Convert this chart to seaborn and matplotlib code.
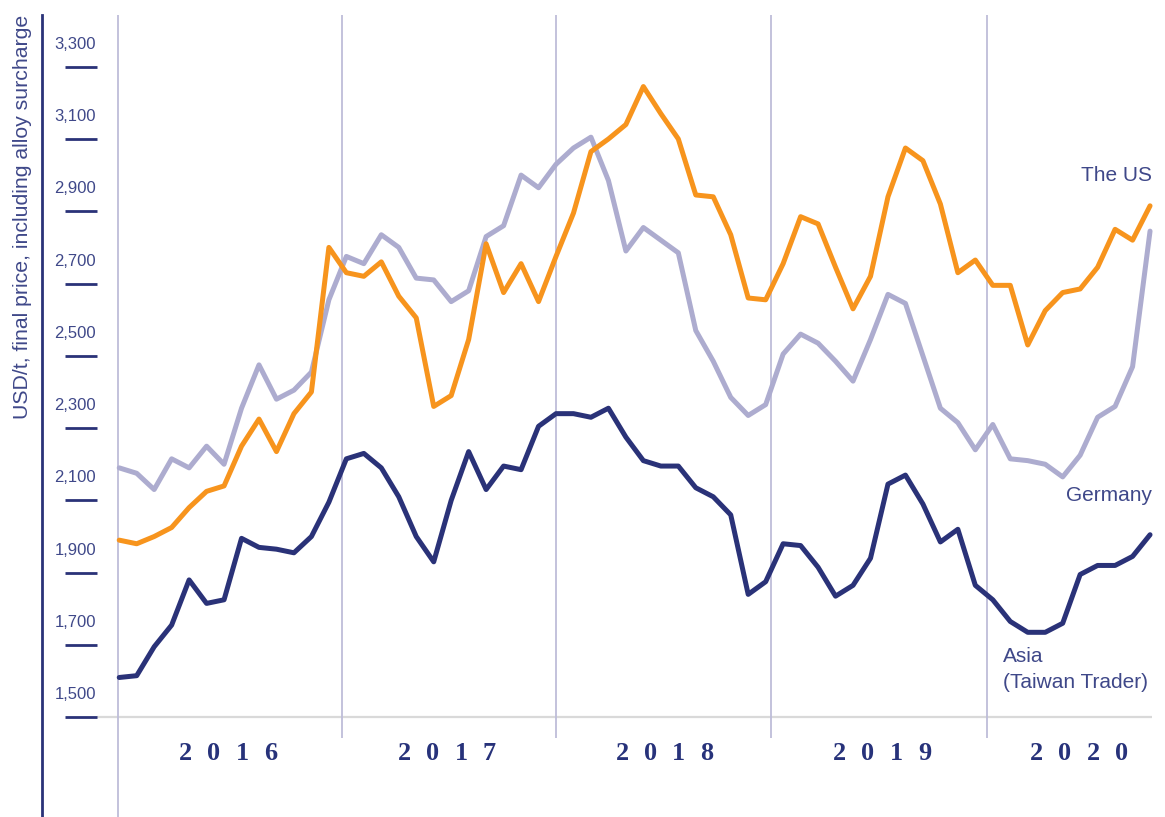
"""Stainless steel final prices by region, monthly 2016-2020."""

import matplotlib.pyplot as plt
import matplotlib.transforms as mtransforms
import numpy as np
import pandas as pd
import seaborn as sns

# ---- data (USD/t, monthly Jan 2016 .. Dec 2020) ----
years = ["2016", "2017", "2018", "2019", "2020"]
month_index = np.arange(60)

us = [1990, 1980, 2000, 2025, 2080, 2125, 2140, 2250, 2325, 2235, 2340, 2400,
      2800, 2730, 2720, 2760, 2665, 2605, 2360, 2390, 2545, 2810, 2675, 2755,
      2650, 2775, 2895, 3065, 3100, 3140, 3245, 3170, 3100, 2945, 2940, 2835,
      2660, 2655, 2755, 2885, 2865, 2745, 2630, 2720, 2940, 3075, 3040, 2920,
      2730, 2765, 2695, 2695, 2530, 2625, 2675, 2685, 2745, 2850, 2820, 2915]

germany = [2190, 2175, 2130, 2215, 2190, 2250, 2200, 2355, 2475, 2380, 2405, 2455,
           2655, 2775, 2755, 2835, 2800, 2715, 2710, 2650, 2680, 2830, 2860, 3000,
           2965, 3030, 3075, 3105, 2985, 2790, 2855, 2820, 2785, 2570, 2485, 2385,
           2335, 2365, 2505, 2560, 2535, 2485, 2430, 2545, 2670, 2645, 2500, 2355,
           2315, 2240, 2310, 2215, 2210, 2200, 2165, 2225, 2330, 2360, 2470, 2845]

asia = [1610, 1615, 1695, 1755, 1880, 1815, 1825, 1995, 1970, 1965, 1955, 2000,
        2095, 2215, 2230, 2190, 2110, 2000, 1930, 2100, 2235, 2130, 2195, 2185,
        2305, 2340, 2340, 2330, 2355, 2275, 2210, 2195, 2195, 2135, 2110, 2060,
        1840, 1875, 1980, 1975, 1915, 1835, 1865, 1940, 2145, 2170, 2090, 1985,
        2020, 1865, 1825, 1765, 1735, 1735, 1760, 1895, 1920, 1920, 1945, 2005]

ytick_values = [1500, 1700, 1900, 2100, 2300, 2500, 2700, 2900, 3100, 3300]
ytick_labels = [f"{v:,}" for v in ytick_values]

# ---- styling ----
ORANGE = "#f7941d"
LAVENDER = "#adaccf"
NAVY = "#2a3278"
TEXT = "#3f4889"
DIVIDER = "#bebdd9"

sns.set_style("white")
plt.rcParams["font.family"] = ["Liberation Sans", "DejaVu Sans"]

df = pd.concat([
    pd.DataFrame({"month": month_index, "price": germany, "region": "Germany"}),
    pd.DataFrame({"month": month_index, "price": asia, "region": "Asia"}),
    pd.DataFrame({"month": month_index, "price": us, "region": "The US"}),
])

fig = plt.figure(figsize=(11.65, 8.17), dpi=100)
ax = fig.add_axes([42 / 1165, 0.0, 1118 / 1165, 802 / 817])

ax.set_xlim(-4.42, 59.57)
ax.set_ylim(1224, 3443)

# frame: left spine only
for side in ["top", "right", "bottom"]:
    ax.spines[side].set_visible(False)
ax.spines["left"].set_color(NAVY)
ax.spines["left"].set_linewidth(2.0)
ax.set_xticks([])
ax.set_yticks([])

# baseline and year dividers
ax.hlines(1500, 0.0492, 0.9928, transform=ax.get_yaxis_transform(),
          color="#d9d9d9", linewidth=1.6, zorder=1)
ax.axvline(-0.07, color=DIVIDER, linewidth=1.3, zorder=1)
ax.vlines([12.75, 25.0, 37.3, 49.67], 1442, 3443, color=DIVIDER,
          linewidth=1.3, zorder=1)

# y ticks drawn as detached dashes, labels sitting above them
ax.hlines(ytick_values, 0.0206, 0.0492, transform=ax.get_yaxis_transform(),
          color=NAVY, linewidth=2.0, zorder=2)
lift = mtransforms.ScaledTranslation(0, 18 / 100, fig.dpi_scale_trans)
for v, lab in zip(ytick_values, ytick_labels):
    ax.text(0.0483, v, lab, transform=ax.get_yaxis_transform() + lift,
            ha="right", va="baseline", fontsize=12, color=TEXT)

ax.text(-0.017, 1.0, "USD/t, final price, including alloy surcharge",
        transform=ax.transAxes, rotation=90, ha="center", va="top",
        fontsize=15.3, color=TEXT)

# series
sns.lineplot(
    data=df, x="month", y="price", hue="region",
    hue_order=["Germany", "Asia", "The US"],
    palette={"Germany": LAVENDER, "Asia": NAVY, "The US": ORANGE},
    linewidth=3.6, legend=False, sort=False, ax=ax, zorder=3,
    solid_joinstyle="round", solid_capstyle="round",
)
ax.set_xlabel("")
ax.set_ylabel("")

# series labels
ax.text(59.13, 2985, "The US", ha="right", va="baseline", fontsize=15, color=TEXT)
ax.text(59.10, 2099, "Germany", ha="right", va="baseline", fontsize=15, color=TEXT)
ax.text(50.57, 1652, "Asia", ha="left", va="baseline", fontsize=15, color=TEXT)
ax.text(50.57, 1582, "(Taiwan Trader)", ha="left", va="baseline", fontsize=15,
        color=TEXT)

# year labels, letter-spaced bold serif
year_label_x = [6.22, 18.76, 31.21, 43.66, 54.93]
for year, xc in zip(years, year_label_x):
    for k, ch in enumerate(year):
        ax.text(xc + (k - 1.5) * 1.62, 1382, ch, ha="center", va="baseline",
                fontfamily="Liberation Serif", fontweight="bold",
                fontsize=18.9, color="#27327a")

fig.savefig("out.png", dpi=100)
plt.close(fig)
